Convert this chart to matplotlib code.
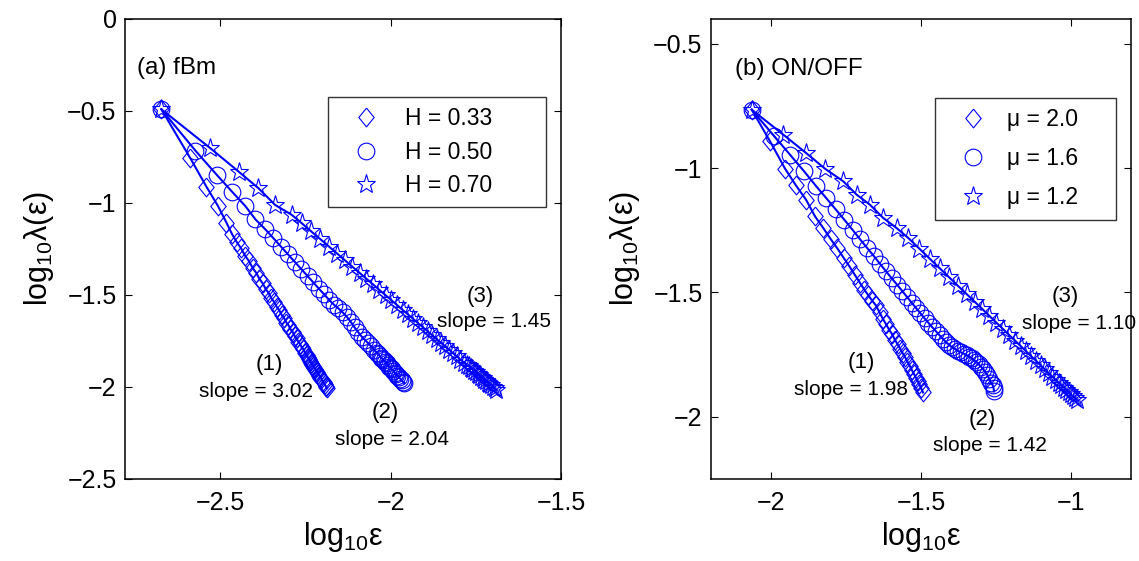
import numpy as np
import matplotlib
matplotlib.use("Agg")
import matplotlib.pyplot as plt
from matplotlib.lines import Line2D

plt.rcParams['font.family'] = ['Liberation Sans', 'DejaVu Sans']
plt.rcParams['mathtext.fontset'] = 'custom'
plt.rcParams['mathtext.rm'] = 'Liberation Sans'
plt.rcParams['mathtext.it'] = 'Liberation Sans:italic'

# ---- panel (a): fBm ----
fbm_labels = ['H = 0.33', 'H = 0.50', 'H = 0.70']

fbm_x1 = [-2.673, -2.588, -2.541, -2.507, -2.482, -2.466, -2.452, -2.439, -2.427, -2.416,
          -2.405, -2.395, -2.385, -2.376, -2.367, -2.358, -2.350, -2.342, -2.334, -2.327,
          -2.320, -2.313, -2.306, -2.300, -2.294, -2.288, -2.282, -2.276, -2.271, -2.266,
          -2.261, -2.256, -2.251, -2.246, -2.243, -2.240, -2.236, -2.233, -2.230, -2.227,
          -2.224, -2.221, -2.218, -2.215, -2.212, -2.209, -2.206, -2.203, -2.200, -2.197,
          -2.194, -2.191, -2.189, -2.187]
fbm_y1 = [-0.491, -0.757, -0.911, -1.016, -1.107, -1.168, -1.212, -1.247, -1.287, -1.316,
          -1.353, -1.379, -1.413, -1.436, -1.467, -1.490, -1.518, -1.538, -1.566, -1.583,
          -1.608, -1.625, -1.650, -1.664, -1.686, -1.700, -1.722, -1.736, -1.755, -1.766,
          -1.785, -1.796, -1.815, -1.828, -1.839, -1.846, -1.860, -1.867, -1.878, -1.885,
          -1.896, -1.903, -1.914, -1.921, -1.932, -1.939, -1.950, -1.957, -1.968, -1.975,
          -1.986, -1.993, -2.001, -2.007]

fbm_x2 = [-2.673, -2.573, -2.510, -2.466, -2.427, -2.397, -2.368, -2.344, -2.322, -2.301,
          -2.281, -2.262, -2.244, -2.227, -2.211, -2.196, -2.181, -2.167, -2.154, -2.141,
          -2.129, -2.117, -2.106, -2.095, -2.085, -2.075, -2.066, -2.057, -2.048, -2.040,
          -2.036, -2.032, -2.028, -2.024, -2.020, -2.016, -2.012, -2.008, -2.004, -2.000,
          -1.996, -1.992, -1.988, -1.984, -1.980, -1.976, -1.972, -1.968, -1.964, -1.960]
fbm_y2 = [-0.491, -0.716, -0.848, -0.938, -1.016, -1.089, -1.143, -1.192, -1.237, -1.280,
          -1.321, -1.360, -1.397, -1.432, -1.465, -1.495, -1.526, -1.552, -1.572, -1.594,
          -1.618, -1.646, -1.676, -1.703, -1.726, -1.745, -1.762, -1.780, -1.799, -1.815,
          -1.823, -1.831, -1.840, -1.848, -1.856, -1.864, -1.872, -1.881, -1.889, -1.897,
          -1.905, -1.913, -1.922, -1.930, -1.938, -1.946, -1.954, -1.963, -1.971, -1.979]

fbm_x3 = [-2.673, -2.529, -2.446, -2.388, -2.339, -2.290, -2.261, -2.233, -2.206, -2.181,
          -2.157, -2.134, -2.112, -2.091, -2.071, -2.052, -2.033, -2.015, -1.998, -1.981,
          -1.965, -1.949, -1.934, -1.919, -1.905, -1.891, -1.878, -1.865, -1.852, -1.840,
          -1.828, -1.817, -1.806, -1.795, -1.785, -1.775, -1.770, -1.765, -1.760, -1.755,
          -1.750, -1.745, -1.740, -1.735, -1.730, -1.725, -1.720, -1.715, -1.710, -1.705,
          -1.700, -1.695, -1.690]
fbm_y3 = [-0.491, -0.703, -0.830, -0.920, -1.011, -1.065, -1.110, -1.155, -1.197, -1.237,
          -1.275, -1.312, -1.347, -1.380, -1.412, -1.442, -1.473, -1.501, -1.528, -1.555,
          -1.581, -1.606, -1.630, -1.654, -1.676, -1.698, -1.719, -1.740, -1.760, -1.779,
          -1.798, -1.816, -1.833, -1.851, -1.867, -1.883, -1.886, -1.899, -1.901, -1.915,
          -1.917, -1.931, -1.933, -1.946, -1.950, -1.960, -1.966, -1.976, -1.984, -1.991,
          -2.001, -2.008, -2.018]

# ---- panel (b): ON/OFF ----
onoff_labels = ['\u03bc = 2.0', '\u03bc = 1.6', '\u03bc = 1.2']

onoff_x1 = [-2.064, -2.003, -1.953, -1.917, -1.883, -1.853, -1.826, -1.801, -1.779, -1.758,
            -1.739, -1.721, -1.704, -1.689, -1.675, -1.662, -1.650, -1.638, -1.627, -1.616,
            -1.606, -1.596, -1.587, -1.578, -1.569, -1.561, -1.553, -1.545, -1.538, -1.531,
            -1.524, -1.517, -1.511, -1.505, -1.499, -1.493]
onoff_y1 = [-0.765, -0.892, -1.002, -1.069, -1.127, -1.194, -1.240, -1.285, -1.322, -1.360,
            -1.394, -1.428, -1.460, -1.488, -1.512, -1.534, -1.552, -1.580, -1.606, -1.628,
            -1.650, -1.668, -1.690, -1.708, -1.726, -1.744, -1.760, -1.778, -1.794, -1.810,
            -1.826, -1.842, -1.856, -1.870, -1.886, -1.902]

onoff_x2 = [-2.064, -1.990, -1.935, -1.890, -1.851, -1.816, -1.784, -1.755, -1.728, -1.703,
            -1.680, -1.658, -1.637, -1.617, -1.598, -1.580, -1.563, -1.547, -1.531, -1.516,
            -1.502, -1.488, -1.475, -1.462, -1.450, -1.438, -1.427, -1.416, -1.405, -1.395,
            -1.385, -1.375, -1.366, -1.357, -1.348, -1.339, -1.331, -1.323, -1.315, -1.307,
            -1.300, -1.293, -1.286, -1.279, -1.273, -1.267, -1.261, -1.258, -1.256]
onoff_y2 = [-0.765, -0.870, -0.948, -1.012, -1.070, -1.120, -1.166, -1.208, -1.248, -1.286,
            -1.320, -1.352, -1.384, -1.414, -1.442, -1.468, -1.493, -1.517, -1.541, -1.563,
            -1.583, -1.604, -1.622, -1.640, -1.656, -1.672, -1.686, -1.700, -1.712, -1.721,
            -1.728, -1.736, -1.741, -1.746, -1.752, -1.758, -1.765, -1.772, -1.780, -1.789,
            -1.798, -1.808, -1.819, -1.831, -1.846, -1.862, -1.872, -1.885, -1.898]

onoff_x3 = [-2.064, -1.959, -1.883, -1.820, -1.759, -1.714, -1.670, -1.626, -1.581, -1.542,
            -1.505, -1.470, -1.437, -1.406, -1.376, -1.348, -1.321, -1.296, -1.272, -1.249,
            -1.227, -1.206, -1.186, -1.167, -1.149, -1.132, -1.116, -1.101, -1.087, -1.074,
            -1.062, -1.051, -1.041, -1.032, -1.023, -1.015, -1.007, -1.000, -0.993, -0.986,
            -0.980]
onoff_y3 = [-0.765, -0.865, -0.939, -1.002, -1.053, -1.107, -1.147, -1.200, -1.241, -1.281,
            -1.324, -1.365, -1.403, -1.439, -1.474, -1.506, -1.537, -1.566, -1.594, -1.621,
            -1.646, -1.671, -1.694, -1.716, -1.737, -1.757, -1.775, -1.793, -1.809, -1.824,
            -1.838, -1.851, -1.862, -1.873, -1.883, -1.892, -1.902, -1.910, -1.918, -1.926,
            -1.933]

fbm_slopes = ['3.02', '2.04', '1.45']
onoff_slopes = ['1.98', '1.42', '1.10']

blue = '#0000ff'
diamond = [(0, 1), (0.82, 0), (0, -1), (-0.82, 0), (0, 1)]
markers = [diamond, 'o', '*']
msizes = [13.5, 12, 14]

fig = plt.figure(figsize=(11.39, 5.61), dpi=100)
ax1 = fig.add_axes([0.1097, 0.1462, 0.3828, 0.8200])
ax2 = fig.add_axes([0.6242, 0.1462, 0.3687, 0.8200])


def draw_panel(ax, xs, ys, labels):
    handles = []
    for x, y, m, ms, lab in zip(xs, ys, markers, msizes, labels):
        ax.plot(x, y, '-', color=blue, lw=1.5)
        ax.plot(x, y, ls='none', marker=m, ms=ms, mfc='none', mec=blue, mew=0.8)
        handles.append(Line2D([], [], ls='none', marker=m, ms=ms, mfc='none',
                              mec=blue, mew=0.8, label=lab))
    return handles


h1 = draw_panel(ax1, [fbm_x1, fbm_x2, fbm_x3], [fbm_y1, fbm_y2, fbm_y3], fbm_labels)
h2 = draw_panel(ax2, [onoff_x1, onoff_x2, onoff_x3], [onoff_y1, onoff_y2, onoff_y3], onoff_labels)

ax1.set_xlim(-2.78, -1.5)
ax1.set_ylim(-2.5, 0)
ax1.set_xticks([-2.5, -2, -1.5])
ax1.set_yticks([-2.5, -2, -1.5, -1, -0.5, 0])
ax1.set_xticklabels(['\u22122.5', '\u22122', '\u22121.5'])
ax1.set_yticklabels(['\u22122.5', '\u22122', '\u22121.5', '\u22121', '\u22120.5', '0'])

ax2.set_xlim(-2.2, -0.8)
ax2.set_ylim(-2.25, -0.4)
ax2.set_xticks([-2, -1.5, -1])
ax2.set_yticks([-2, -1.5, -1, -0.5])
ax2.set_xticklabels(['\u22122', '\u22121.5', '\u22121'])
ax2.set_yticklabels(['\u22122', '\u22121.5', '\u22121', '\u22120.5'])

for ax in (ax1, ax2):
    ax.tick_params(direction='in', top=True, right=True, length=5, width=0.8,
                   labelsize=18)
    ax.tick_params(axis='x', pad=9)
    ax.tick_params(axis='y', pad=6)
    for s in ax.spines.values():
        s.set_linewidth(1.1)
    ax.set_xlabel('log$_{10}$\u03b5', fontsize=22, labelpad=3)
    ax.set_ylabel('log$_{10}$\u03bb(\u03b5)', fontsize=22, labelpad=8)

ax1.text(-2.745, -0.266, '(a) fBm', fontsize=17.5, va='center', ha='left')
ax2.text(-2.12, -0.603, '(b) ON/OFF', fontsize=17.5, va='center', ha='left')

# slope annotations
ax1.text(-2.356, -1.88, '(1)', fontsize=16, ha='center', va='center')
ax1.text(-2.395, -2.026, 'slope = ' + fbm_slopes[0], fontsize=15, ha='center', va='center')
ax1.text(-2.017, -2.141, '(2)', fontsize=16, ha='center', va='center')
ax1.text(-1.995, -2.288, 'slope = ' + fbm_slopes[1], fontsize=15, ha='center', va='center')
ax1.text(-1.738, -1.509, '(3)', fontsize=16, ha='center', va='center')
ax1.text(-1.697, -1.645, 'slope = ' + fbm_slopes[2], fontsize=15, ha='center', va='center')

ax2.text(-1.698, -1.783, '(1)', fontsize=16, ha='center', va='center')
ax2.text(-1.734, -1.890, 'slope = ' + onoff_slopes[0], fontsize=15, ha='center', va='center')
ax2.text(-1.297, -2.010, '(2)', fontsize=16, ha='center', va='center')
ax2.text(-1.270, -2.114, 'slope = ' + onoff_slopes[1], fontsize=15, ha='center', va='center')
ax2.text(-1.020, -1.515, '(3)', fontsize=16, ha='center', va='center')
ax2.text(-0.973, -1.623, 'slope = ' + onoff_slopes[2], fontsize=15, ha='center', va='center')

legend_opts = [
    (ax1, h1, (0.466, 0.607, 0.5, 0.223), 0.45, 0.5),
    (ax2, h2, (0.533, 0.578, 0.431, 0.25), 0.7, 0.3),
]
for ax, hs, box, spacing, textpad in legend_opts:
    leg = ax.legend(handles=hs, loc='upper left', bbox_to_anchor=box, mode='expand',
                    fontsize=16.5, frameon=True, fancybox=False, borderpad=0.45,
                    labelspacing=spacing, handlelength=2.4, handletextpad=textpad,
                    borderaxespad=0)
    leg.get_frame().set_edgecolor('black')
    leg.get_frame().set_linewidth(1.0)

fig.savefig('out.png', dpi=100)
